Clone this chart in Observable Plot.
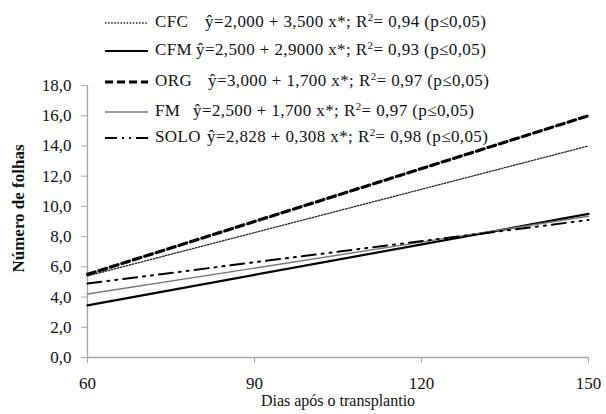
<!DOCTYPE html>
<html>
<head>
<meta charset="utf-8">
<script src="https://cdn.jsdelivr.net/npm/d3@7"></script>
<script src="https://cdn.jsdelivr.net/npm/@observablehq/plot@0.6"></script>
<style>
  html, body { margin: 0; padding: 0; background: #fff; }
  #wrap { position: relative; width: 606px; height: 414px; font-family: 'Liberation Serif', 'Times New Roman', serif; }
  #legend { position: absolute; left: 0; top: 0; width: 606px; height: 160px; pointer-events: none; }
  .row { position: absolute; left: 0; height: 20px; font-size: 17px; letter-spacing: 0.4px; color: #111; white-space: nowrap; }
  .row svg { position: absolute; left: 104px; top: 5px; }
  .row .lab { position: absolute; left: 155px; top: 0; }
  .row .eq { position: absolute; top: 0; }
  sup { font-size: 11px; vertical-align: 6px; line-height: 0; }
  svg text { font-family: 'Liberation Serif', 'Times New Roman', serif; }
</style>
</head>
<body>
<div id="wrap"></div>
<script>
// Data
const days = [60, 150];
const seriesNames = ["CFC", "CFM", "ORG", "FM", "SOLO"];
const cfc  = [5.4, 14.0];
const cfm  = [3.45, 9.5];
const org  = [5.5, 16.0];
const fm   = [4.2, 9.35];
const solo = [4.9, 9.1];
const equations = [
  "ŷ=2,000 + 3,500 x*; R<sup>2</sup>= 0,94 (p≤0,05)",
  "ŷ=2,500 + 2,9000 x*; R<sup>2</sup>= 0,93 (p≤0,05)",
  "ŷ=3,000 + 1,700 x*; R<sup>2</sup>= 0,97 (p≤0,05)",
  "ŷ=2,500 + 1,700 x*; R<sup>2</sup>= 0,97 (p≤0,05)",
  "ŷ=2,828 + 0,308 x*; R<sup>2</sup>= 0,98 (p≤0,05)"
];
const yTicks = [0, 2, 4, 6, 8, 10, 12, 14, 16, 18];
const xTicks = [60, 90, 120, 150];

const valuesBySeries = [cfc, cfm, org, fm, solo];
const styles = {
  CFC:  {stroke: "#222", strokeWidth: 1.3, dash: "1.5,1.6"},
  CFM:  {stroke: "#000", strokeWidth: 2.2, dash: null},
  ORG:  {stroke: "#000", strokeWidth: 3.2, dash: "8,4"},
  FM:   {stroke: "#777", strokeWidth: 1.4, dash: null},
  SOLO: {stroke: "#000", strokeWidth: 2.0, dash: "14,6,2,6,2,6"}
};

const rows = [];
seriesNames.forEach((s, i) => days.forEach((d, j) => rows.push({serie: s, dia: d, folhas: valuesBySeries[i][j]})));

const fmt = d => d3.format(".1f")(d).replace(".", ",");

const lineMarks = seriesNames.map(s => Plot.line(rows.filter(r => r.serie === s), {
  x: "dia", y: "folhas",
  stroke: styles[s].stroke,
  strokeWidth: styles[s].strokeWidth,
  strokeDasharray: styles[s].dash || undefined
}));

const chart = Plot.plot({
  width: 606,
  height: 414,
  marginLeft: 87,
  marginRight: 18,
  marginTop: 85,
  marginBottom: 57,
  style: {fontFamily: "'Liberation Serif', 'Times New Roman', serif", fontSize: "17px", color: "#111", background: "#fff"},
  x: {domain: [60, 150]},
  y: {domain: [0, 18]},
  marks: [
    Plot.ruleX([60], {stroke: "#a6a6a6", strokeWidth: 1.3}),
    Plot.ruleY([0], {stroke: "#a6a6a6", strokeWidth: 1.3}),
    Plot.axisY({ticks: yTicks, tickSize: 6, tickPadding: 10, tickFormat: fmt, stroke: "#a6a6a6", fill: "#111", fontSize: 17, label: null}),
    Plot.axisX({ticks: xTicks, tickSize: 6, tickPadding: 13, tickFormat: d => String(d), stroke: "#a6a6a6", fill: "#111", fontSize: 17, label: null}),
    Plot.text(["Número de folhas"], {frameAnchor: "left", dx: -69, dy: -13, rotate: -90, textAnchor: "middle", fontWeight: "bold", fontSize: 17, fill: "#111"}),
    Plot.text(["Dias após o transplantio"], {frameAnchor: "bottom", dy: 48, dx: 0, fontSize: 16, fill: "#111"}),
    ...lineMarks
  ]
});

const wrap = document.getElementById("wrap");
wrap.appendChild(chart);

// Legend overlay
const legend = document.createElement("div");
legend.id = "legend";
const rowTops = [12, 40, 71, 101, 127];
const eqLeft = [205, 196, 208, 193, 207];
seriesNames.forEach((s, i) => {
  const st = styles[s];
  const row = document.createElement("div");
  row.className = "row";
  row.style.top = rowTops[i] + "px";
  row.innerHTML =
    `<svg width="46" height="12"><line x1="1" y1="6" x2="44" y2="6" stroke="${st.stroke}" stroke-width="${st.strokeWidth}" ${st.dash ? `stroke-dasharray="${s === "SOLO" ? "12,5,2,5,2,5" : st.dash}"` : ""}/></svg>` +
    `<span class="lab">${s}</span><span class="eq" style="left:${eqLeft[i]}px">${equations[i]}</span>`;
  legend.appendChild(row);
});
wrap.appendChild(legend);
</script>
</body>
</html>
